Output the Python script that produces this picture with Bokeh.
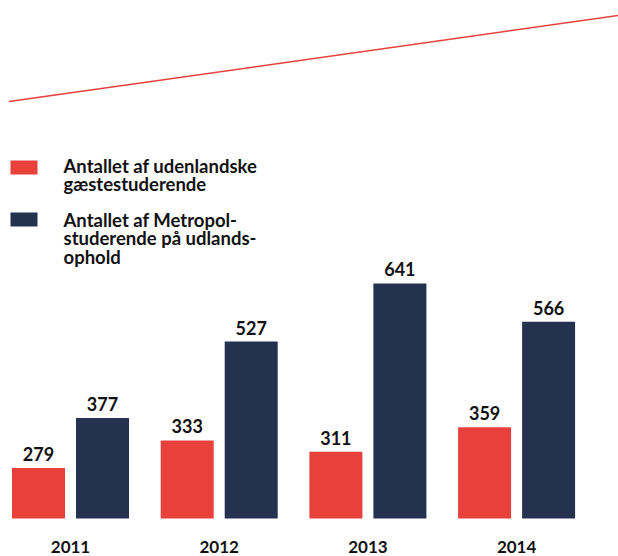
from bokeh.plotting import figure
from bokeh.models import Range1d, ColumnDataSource
from bokeh.transform import dodge
from bokeh.core.properties import value
from bokeh.embed import file_html
from bokeh.resources import INLINE

# ---- data ----
years = ["2011", "2012", "2013", "2014"]
guests = [279, 333, 311, 359]          # Antallet af udenlandske gæstestuderende
abroad = [377, 527, 641, 566]          # Antallet af Metropol-studerende på udlandsophold
legend_guest = ["Antallet af udenlandske", "gæstestuderende"]
legend_abroad = ["Antallet af Metropol-", "studerende på udlands-", "ophold"]

RED = "#e8403a"
NAVY = "#243250"
FONT = "Lato"

W, H = 618, 556
PX_X = 148.7            # px per category step
X0 = -70 / PX_X         # left edge of x range (first group centre at 70px)
PX_Y = 0.51             # px per unit
BASE = 180              # value at bar baseline
BASE_PAGE_Y = 518
TS = 8                  # text baseline correction (px)

def dx(px):
    return X0 + px / PX_X

def dy(py):
    return BASE + (BASE_PAGE_Y - py) / PX_Y

p = figure(width=W, height=H, output_backend="svg", toolbar_location=None,
           x_range=Range1d(dx(0), dx(W)), y_range=Range1d(dy(H), dy(0)),
           min_border=0)
p.axis.visible = False
p.grid.visible = False
p.outline_line_color = None
p.background_fill_color = "white"
p.border_fill_color = "white"

idx = list(range(len(years)))
src = ColumnDataSource(dict(x=idx, year=years, g=guests, a=abroad,
                            gl=[str(v) for v in guests], al=[str(v) for v in abroad]))

off = 32 / PX_X
bw = 53 / PX_X
p.vbar(x=dodge("x", -off, range=p.x_range), top="g", bottom=BASE, width=bw,
       source=src, fill_color=RED, line_color=None)
p.vbar(x=dodge("x", off, range=p.x_range), top="a", bottom=BASE, width=bw,
       source=src, fill_color=NAVY, line_color=None)

gap = (6 + TS) / PX_Y
lab = dict(source=src, text_font=value(FONT), text_font_style="bold",
           text_font_size="18px", text_color="#111111", text_align="center",
           text_baseline="alphabetic")
p.text(x=dodge("x", -off, range=p.x_range), y=dodge("g", gap, range=p.y_range), text="gl", **lab)
p.text(x=dodge("x", off, range=p.x_range), y=dodge("a", gap, range=p.y_range), text="al", **lab)

p.text(x="x", y=dy(554 - TS), text="year", source=src, text_font=value(FONT),
       text_font_style="bold", text_font_size="17px", text_color="#111111",
       text_align="center", text_baseline="alphabetic")

# decorative diagonal line
p.line(x=[dx(8.5), dx(620)], y=[dy(101), dy(14.7)], line_color=RED, line_width=1.5)

# legend
p.quad(left=[dx(10)], right=[dx(37)], top=[dy(160)], bottom=[dy(174)],
       fill_color=RED, line_color=None)
p.quad(left=[dx(10)], right=[dx(37)], top=[dy(212)], bottom=[dy(226)],
       fill_color=NAVY, line_color=None)

leg = dict(text_font=value(FONT), text_font_style="bold", text_font_size="18.5px",
           text_color="#111111", text_align="left", text_baseline="alphabetic")
for i, t in enumerate(legend_guest):
    p.text(x=[dx(63)], y=[dy(173 - TS + i * 18.5)], text=[t], **leg)
for i, t in enumerate(legend_abroad):
    p.text(x=[dx(63)], y=[dy(227 - TS + i * 18.5)], text=[t], **leg)

open("out.html", "w").write(file_html(p, INLINE))
